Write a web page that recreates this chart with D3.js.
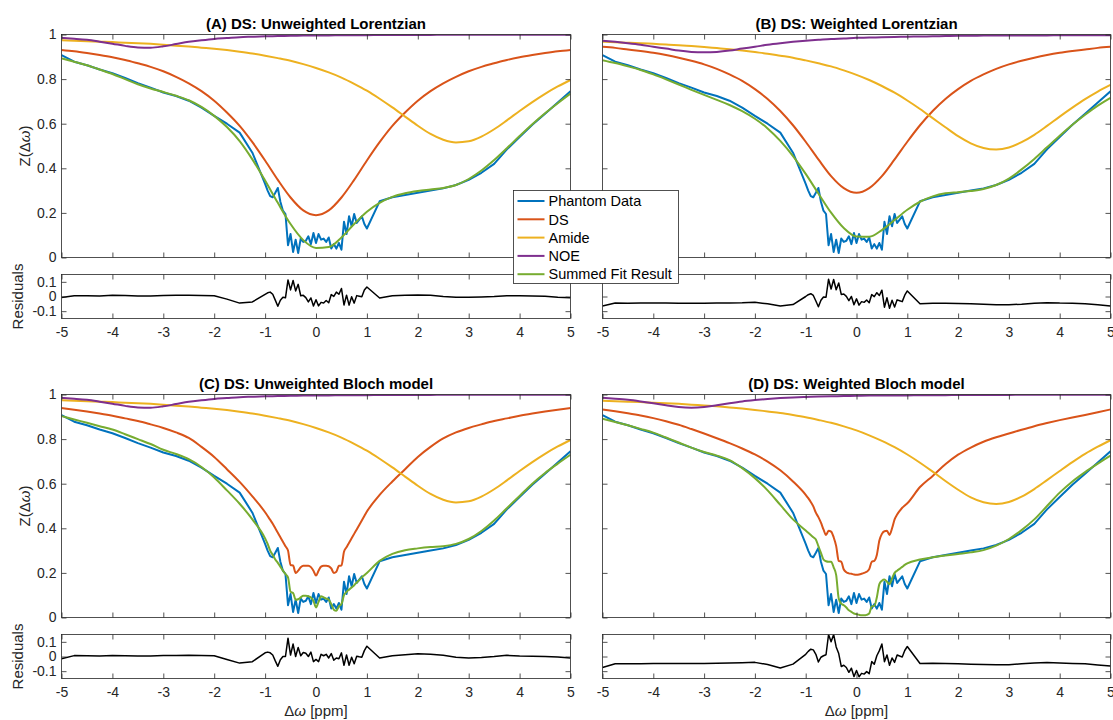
<!DOCTYPE html>
<html>
<head>
<meta charset="utf-8">
<script src="https://cdn.jsdelivr.net/npm/d3@7"></script>
<style>
  body { margin: 0; background: #fff; }
  svg text { font-family: 'Liberation Sans', Arial, Helvetica, sans-serif; }
</style>
</head>
<body>
<div id="canvas"></div>
<script>
'use strict';

// Measured saturation offsets (ppm). Dense sampling around water.
const offsets = [
  -5, -4.75, -4.5, -4.25, -4, -3.75, -3.5, -3.25, -3, -2.75, -2.5, -2.25, -2, -1.75, -1.5, -1.25,
  -1, -0.95, -0.9, -0.85, -0.8, -0.75, -0.7, -0.65, -0.6, -0.55, -0.5, -0.45, -0.4, -0.35, -0.3,
  -0.25, -0.2, -0.15, -0.1, -0.05, 0, 0.05, 0.1, 0.15, 0.2, 0.25, 0.3, 0.35, 0.4, 0.45, 0.5,
  0.55, 0.6, 0.65, 0.7, 0.75, 0.8, 0.85, 0.9, 0.95, 1,
  1.25, 1.5, 1.75, 2, 2.25, 2.5, 2.75, 3, 3.25, 3.5, 3.75, 4, 4.25, 4.5, 4.75, 5];

// Grid the smooth Lorentzian components are read on.
const modelPpm = [
  -5, -4.75, -4.5, -4.25, -4, -3.75, -3.5, -3.25, -3, -2.75, -2.5, -2.25, -2, -1.75, -1.5, -1.25,
  -1, -0.75, -0.5, -0.25, 0, 0.25, 0.5, 0.75, 1, 1.25, 1.5, 1.75, 2, 2.25, 2.5, 2.75, 3, 3.25,
  3.5, 3.75, 4, 4.25, 4.5, 4.75, 5];

const phantom = [
  0.908, 0.878, 0.862, 0.843, 0.826, 0.805, 0.782, 0.762, 0.74, 0.724, 0.703, 0.672, 0.635, 0.6, 0.56, 0.47,
  0.33, 0.3, 0.275, 0.27, 0.29, 0.312, 0.25, 0.21, 0.195, 0.055, 0.105, 0.025, 0.08, 0.02, 0.085,
  0.07, 0.075, 0.095, 0.06, 0.11, 0.065, 0.105, 0.08, 0.085, 0.07, 0.09, 0.04, 0.06, 0.04, 0.065, 0.035,
  0.16, 0.105, 0.185, 0.14, 0.195, 0.155, 0.17, 0.185, 0.15, 0.13,
  0.252, 0.27, 0.28, 0.29, 0.3, 0.31, 0.325, 0.348, 0.38, 0.42, 0.485, 0.54, 0.595, 0.645, 0.695, 0.745];

// (A) unweighted Lorentzian, on modelPpm
const dsA = [
  0.931, 0.925, 0.917, 0.908, 0.898, 0.886, 0.871, 0.855, 0.835, 0.81, 0.781, 0.746, 0.703, 0.65, 0.59, 0.517,
  0.435, 0.348, 0.269, 0.211, 0.19, 0.211, 0.269, 0.348, 0.435, 0.517, 0.59, 0.65, 0.703, 0.746, 0.781,
  0.81, 0.835, 0.855, 0.871, 0.886, 0.898, 0.908, 0.917, 0.925, 0.931];
const amideA = [
  0.974, 0.972, 0.970, 0.968, 0.966, 0.963, 0.961, 0.958, 0.954, 0.950, 0.946, 0.941, 0.936, 0.930, 0.923, 0.915,
  0.905, 0.894, 0.882, 0.867, 0.850, 0.830, 0.807, 0.779, 0.748, 0.712, 0.673, 0.632, 0.591, 0.554, 0.528,
  0.516, 0.521, 0.542, 0.575, 0.615, 0.657, 0.697, 0.734, 0.767, 0.796];
const noeA = [
  0.985, 0.981, 0.976, 0.968, 0.959, 0.949, 0.942, 0.941, 0.947, 0.957, 0.967, 0.974, 0.98, 0.984, 0.988, 0.99,
  0.992, 0.993, 0.994, 0.995, 0.996, 0.996, 0.997, 0.997, 0.997, 0.998, 0.998, 0.998, 0.998, 0.998, 0.999,
  0.999, 0.999, 0.999, 0.999, 0.999, 0.999, 0.999, 0.999, 0.999, 0.999];
const fitA = [
  0.893, 0.878, 0.862, 0.843, 0.823, 0.8, 0.777, 0.758, 0.742, 0.725, 0.705, 0.675, 0.635, 0.585, 0.522, 0.44,
  0.345, 0.245, 0.15, 0.078, 0.043, 0.047, 0.09, 0.15, 0.205, 0.245, 0.272, 0.288, 0.298, 0.305, 0.312,
  0.325, 0.352, 0.39, 0.437, 0.49, 0.545, 0.598, 0.647, 0.692, 0.735];
const residA = [
  -0.007, 0.005, 0.005, 0.004, 0.008, 0.006, 0.003, 0.003, 0.006, 0.008, 0.008, 0.007, 0.005, -0.018, -0.045, -0.037,
  0.015, 0.025, 0.03, 0.015, -0.025, -0.067, -0.025, -0.005, -0.009, 0.113, 0.045, 0.109, 0.038, 0.083, 0.005,
  0.008, -0.008, -0.037, -0.01, -0.065, -0.022, -0.064, -0.04, -0.044, -0.027, -0.043, 0.013, 0.001, 0.03, 0.015, 0.055,
  -0.058, 0.009, -0.059, -0.002, -0.045, 0.006, 0.002, -0.002, 0.044, 0.065,
  -0.01, 0.005, 0.008, 0.01, 0.008, 0, -0.005, -0.005, -0.003, 0, 0.005, 0.005, 0.003, 0.002, -0.005, -0.008];

// (B) weighted Lorentzian, on modelPpm
const dsB = [
  0.945, 0.94, 0.933, 0.926, 0.918, 0.908, 0.896, 0.882, 0.866, 0.846, 0.821, 0.792, 0.755, 0.711, 0.657, 0.593,
  0.519, 0.44, 0.365, 0.311, 0.29, 0.311, 0.365, 0.44, 0.519, 0.593, 0.657, 0.711, 0.755, 0.792, 0.821,
  0.846, 0.866, 0.882, 0.896, 0.908, 0.918, 0.926, 0.933, 0.94, 0.945];
const amideB = [
  0.968, 0.965, 0.963, 0.961, 0.958, 0.955, 0.952, 0.948, 0.944, 0.939, 0.934, 0.928, 0.921, 0.914, 0.905, 0.896,
  0.884, 0.871, 0.857, 0.839, 0.819, 0.796, 0.769, 0.739, 0.704, 0.666, 0.625, 0.584, 0.544, 0.512, 0.491,
  0.484, 0.493, 0.517, 0.55, 0.59, 0.632, 0.672, 0.71, 0.744, 0.774];
const noeB = [
  0.972, 0.967, 0.961, 0.954, 0.945, 0.937, 0.928, 0.922, 0.92, 0.922, 0.928, 0.937, 0.945, 0.954, 0.961, 0.967,
  0.972, 0.976, 0.98, 0.982, 0.985, 0.986, 0.988, 0.989, 0.99, 0.991, 0.992, 0.993, 0.994, 0.994, 0.995,
  0.995, 0.995, 0.996, 0.996, 0.996, 0.997, 0.997, 0.997, 0.997, 0.997];
const fitB = [
  0.885, 0.872, 0.857, 0.841, 0.821, 0.799, 0.776, 0.752, 0.729, 0.707, 0.684, 0.656, 0.622, 0.579, 0.523, 0.455,
  0.375, 0.287, 0.201, 0.132, 0.094, 0.093, 0.123, 0.168, 0.214, 0.25, 0.274, 0.288, 0.293, 0.298, 0.307,
  0.325, 0.354, 0.395, 0.442, 0.494, 0.546, 0.595, 0.64, 0.681, 0.716];
const residB = [
  -0.065, -0.045, -0.046, -0.045, -0.044, -0.045, -0.046, -0.046, -0.046, -0.045, -0.044, -0.043, -0.04, -0.05, -0.065, -0.055,
  0, 0.012, 0.019, 0.007, -0.031, -0.07, -0.026, -0.003, -0.005, 0.118, 0.051, 0.116, 0.046, 0.092, 0.014,
  0.017, 0.001, -0.028, 0, -0.056, -0.016, -0.059, -0.035, -0.04, -0.024, -0.042, 0.013, -0.001, 0.026, 0.007, 0.043,
  -0.073, -0.009, -0.08, -0.026, -0.072, -0.023, -0.029, -0.035, 0.009, 0.038,
  -0.05, -0.046, -0.046, -0.047, -0.05, -0.052, -0.056, -0.056, -0.052, -0.046, -0.042, -0.045, -0.046, -0.05, -0.057, -0.064];

// (C) unweighted Bloch model: DS and fit on offsets
const dsC = [
  0.939, 0.932, 0.924, 0.915, 0.905, 0.893, 0.881, 0.866, 0.85, 0.83, 0.805, 0.765, 0.72, 0.665, 0.608, 0.543,
  0.472, 0.455, 0.438, 0.42, 0.4, 0.38, 0.36, 0.34, 0.32, 0.3, 0.235, 0.233, 0.2, 0.21, 0.225,
  0.232, 0.232, 0.232, 0.226, 0.21, 0.188, 0.21, 0.228, 0.232, 0.232, 0.23, 0.22, 0.2, 0.205, 0.232, 0.233,
  0.295, 0.315, 0.335, 0.355, 0.375, 0.395, 0.415, 0.435, 0.455, 0.475,
  0.55, 0.61, 0.665, 0.72, 0.765, 0.803, 0.83, 0.85, 0.866, 0.881, 0.893, 0.905, 0.915, 0.924, 0.932, 0.939];
const fitC = [
  0.903, 0.888, 0.873, 0.858, 0.843, 0.822, 0.8, 0.778, 0.752, 0.733, 0.71, 0.675, 0.628, 0.57, 0.51, 0.44,
  0.355, 0.33, 0.3, 0.28, 0.26, 0.245, 0.228, 0.21, 0.195, 0.18, 0.115, 0.11, 0.08, 0.082, 0.09,
  0.097, 0.097, 0.095, 0.09, 0.075, 0.045, 0.07, 0.095, 0.09, 0.085, 0.08, 0.06, 0.035, 0.03, 0.05, 0.06,
  0.1, 0.115, 0.125, 0.135, 0.145, 0.157, 0.168, 0.18, 0.19, 0.2,
  0.254, 0.285, 0.302, 0.31, 0.316, 0.32, 0.33, 0.352, 0.388, 0.435, 0.49, 0.545, 0.6, 0.648, 0.69, 0.73];
const residC = [
  -0.015, 0.006, 0.005, 0.004, 0.007, 0.005, 0.003, 0.004, 0.006, 0.007, 0.008, 0.007, 0.005, -0.02, -0.045, -0.035,
  0.025, 0.03, 0.025, 0.01, -0.03, -0.067, -0.022, 0, 0, 0.125, 0.01, 0.085, 0, 0.062, 0.005,
  0.027, 0.022, 0, 0.03, -0.035, -0.02, -0.035, 0.015, 0.005, 0.015, -0.01, 0.02, -0.025, -0.01, -0.015, 0.025,
  -0.06, 0.01, -0.06, -0.005, -0.05, 0.002, -0.002, -0.005, 0.04, 0.07,
  -0.01, 0.005, 0.012, 0.018, 0.015, 0.008, -0.005, -0.01, -0.006, 0, 0.008, 0.004, 0.002, 0, -0.004, -0.01];

// (D) weighted Bloch model
const amideD = [
  0.972, 0.970, 0.968, 0.966, 0.963, 0.961, 0.958, 0.954, 0.951, 0.947, 0.942, 0.937, 0.931, 0.924, 0.917, 0.908,
  0.898, 0.886, 0.873, 0.857, 0.839, 0.817, 0.792, 0.764, 0.731, 0.694, 0.654, 0.612, 0.573, 0.539, 0.517,
  0.509, 0.518, 0.542, 0.576, 0.616, 0.657, 0.697, 0.734, 0.766, 0.795];
const noeD = [
  0.985, 0.981, 0.976, 0.969, 0.961, 0.952, 0.944, 0.941, 0.944, 0.952, 0.961, 0.969, 0.975, 0.98, 0.984, 0.987,
  0.989, 0.991, 0.992, 0.993, 0.994, 0.995, 0.995, 0.996, 0.996, 0.997, 0.997, 0.997, 0.998, 0.998, 0.998,
  0.998, 0.998, 0.999, 0.999, 0.999, 0.999, 0.999, 0.999, 0.999, 0.999];
const dsD = [
  0.933, 0.925, 0.916, 0.906, 0.894, 0.88, 0.864, 0.845, 0.825, 0.804, 0.782, 0.758, 0.731, 0.699, 0.66, 0.61,
  0.55, 0.535, 0.518, 0.498, 0.47, 0.45, 0.425, 0.395, 0.37, 0.389, 0.385, 0.36, 0.32, 0.254, 0.25,
  0.215, 0.203, 0.198, 0.196, 0.193, 0.192, 0.193, 0.196, 0.2, 0.205, 0.217, 0.25, 0.254, 0.28, 0.345, 0.375,
  0.387, 0.389, 0.37, 0.4, 0.44, 0.462, 0.478, 0.492, 0.502, 0.512,
  0.585, 0.635, 0.687, 0.73, 0.762, 0.788, 0.808, 0.825, 0.842, 0.858, 0.872, 0.885, 0.897, 0.908, 0.92, 0.933];
const fitD = [
  0.891, 0.877, 0.862, 0.846, 0.829, 0.807, 0.785, 0.762, 0.742, 0.726, 0.706, 0.67, 0.625, 0.57, 0.505, 0.44,
  0.39, 0.38, 0.37, 0.36, 0.35, 0.32, 0.29, 0.26, 0.252, 0.25, 0.25, 0.225, 0.19, 0.085, 0.062,
  0.055, 0.045, 0.032, 0.025, 0.018, 0.015, 0.012, 0.01, 0.01, 0.012, 0.018, 0.05, 0.052, 0.09, 0.15, 0.165,
  0.17, 0.16, 0.15, 0.175, 0.2, 0.21, 0.218, 0.227, 0.236, 0.243,
  0.26, 0.27, 0.278, 0.285, 0.292, 0.302, 0.322, 0.352, 0.392, 0.44, 0.5, 0.56, 0.61, 0.652, 0.69, 0.726];
const residD = [
  -0.075, -0.05, -0.05, -0.05, -0.048, -0.047, -0.048, -0.048, -0.047, -0.046, -0.045, -0.043, -0.04, -0.055, -0.078, -0.052,
  0.015, 0.035, 0.05, 0.045, 0.015, -0.037, -0.005, 0.005, 0.012, 0.15, 0.1, 0.15, 0.065, 0.02, -0.068,
  -0.06, -0.075, -0.108, -0.08, -0.137, -0.095, -0.138, -0.115, -0.12, -0.103, -0.117, -0.035, -0.053, 0.005, 0.04, 0.085,
  -0.035, 0.01, -0.06, -0.01, -0.04, 0.01, 0.003, -0.003, 0.041, 0.068,
  -0.048, -0.046, -0.047, -0.05, -0.052, -0.054, -0.056, -0.056, -0.05, -0.045, -0.041, -0.044, -0.047, -0.05, -0.058, -0.065];

const xTicks = [-5, -4, -3, -2, -1, 0, 1, 2, 3, 4, 5];
const zTicks = [0, 0.2, 0.4, 0.6, 0.8, 1];
const residTicks = [-0.1, 0, 0.1];
const legendKeys = ['Phantom Data', 'DS', 'Amide', 'NOE', 'Summed Fit Result'];

// MATLAB default line colours.
const COLORS = ['#0072BD', '#D95319', '#EDB120', '#7E2F8E', '#77AC30'];
const AXIS_COLOR = '#262626';

const WIDTH = 1113;
const HEIGHT = 720;
const COLUMNS = [{left: 61.5, right: 570.5}, {left: 602.5, right: 1110.5}];
const ROWS = [{top: 34.5}, {top: 394.5}];
const MAIN_H = 223;
const GAP = 17;
const RES_H = 44;
const TICK = 5;

const panels = [
  {id: 'a', title: '(A) DS: Unweighted Lorentzian', col: 0, row: 0,
   curves: [[modelPpm, dsA], [modelPpm, amideA], [modelPpm, noeA], [modelPpm, fitA]],
   resid: residA},
  {id: 'b', title: '(B) DS: Weighted Lorentzian', col: 1, row: 0,
   curves: [[modelPpm, dsB], [modelPpm, amideB], [modelPpm, noeB], [modelPpm, fitB]],
   resid: residB},
  {id: 'c', title: '(C) DS: Unweighted Bloch model', col: 0, row: 1,
   curves: [[offsets, dsC], [modelPpm, amideA], [modelPpm, noeA], [offsets, fitC]],
   resid: residC},
  {id: 'd', title: '(D) DS: Weighted Bloch model', col: 1, row: 1,
   curves: [[offsets, dsD], [modelPpm, amideD], [modelPpm, noeD], [offsets, fitD]],
   resid: residD},
];

const svg = d3.select('#canvas').append('svg')
    .attr('width', WIDTH)
    .attr('height', HEIGHT)
    .style('display', 'block');
const defs = svg.append('defs');

/** Draws a boxed MATLAB-style axes with inward ticks on all four sides. */
function drawAxes(g, x, y, yTicks, showXLabels, showYLabels) {
  const [x0, x1] = x.range();
  const [yBottom, yTop] = y.range();
  const fmt = d => String(d);

  g.append('g')
      .attr('transform', `translate(0,${yBottom})`)
      .call(d3.axisBottom(x).tickValues(xTicks).tickSizeInner(-TICK).tickSizeOuter(0)
          .tickPadding(9).tickFormat(showXLabels ? fmt : ''));
  g.append('g')
      .attr('transform', `translate(0,${yTop})`)
      .call(d3.axisTop(x).tickValues(xTicks).tickSizeInner(-TICK).tickSizeOuter(0).tickFormat(''));
  g.append('g')
      .attr('transform', `translate(${x0},0)`)
      .call(d3.axisLeft(y).tickValues(yTicks).tickSizeInner(-TICK).tickSizeOuter(0)
          .tickPadding(5).tickFormat(showYLabels ? fmt : ''));
  g.append('g')
      .attr('transform', `translate(${x1},0)`)
      .call(d3.axisRight(y).tickValues(yTicks).tickSizeInner(-TICK).tickSizeOuter(0).tickFormat(''));

  g.selectAll('.domain').remove();
  g.selectAll('.tick line').attr('stroke', AXIS_COLOR).attr('stroke-width', 0.8);
  g.selectAll('.tick text')
      .attr('fill', AXIS_COLOR)
      .style('font-size', '14px');

  g.append('rect')
      .attr('x', x0)
      .attr('y', yTop)
      .attr('width', x1 - x0)
      .attr('height', yBottom - yTop)
      .attr('fill', 'none')
      .attr('stroke', AXIS_COLOR)
      .attr('stroke-width', 0.8);
}

function addClip(id, x, y) {
  const [x0, x1] = x.range();
  const [yBottom, yTop] = y.range();
  defs.append('clipPath').attr('id', id)
      .append('rect')
      .attr('x', x0).attr('y', yTop)
      .attr('width', x1 - x0).attr('height', yBottom - yTop);
  return `url(#${id})`;
}

function drawPanel(p) {
  const col = COLUMNS[p.col];
  const top = ROWS[p.row].top;
  const residTop = top + MAIN_H + GAP;
  const g = svg.append('g').attr('class', `panel-${p.id}`);

  const x = d3.scaleLinear().domain([-5, 5]).range([col.left, col.right]);
  const yMain = d3.scaleLinear().domain([0, 1]).range([top + MAIN_H, top]);
  const yRes = d3.scaleLinear().domain([-0.15, 0.15]).range([residTop + RES_H, residTop]);

  const mainClip = addClip(`clip-main-${p.id}`, x, yMain);
  const resClip = addClip(`clip-res-${p.id}`, x, yRes);

  const plotLine = (xs, ys, yScale, color, smooth, width, clip) => {
    const gen = d3.line()
        .x((d, i) => x(xs[i]))
        .y(d => yScale(d))
        .curve(smooth ? d3.curveMonotoneX : d3.curveLinear);
    g.append('path')
        .datum(ys)
        .attr('d', gen)
        .attr('fill', 'none')
        .attr('stroke', color)
        .attr('stroke-width', width)
        .attr('stroke-linejoin', 'round')
        .attr('clip-path', clip);
  };

  // Measured data and residuals are plain polylines, model curves are smoothed.
  plotLine(offsets, phantom, yMain, COLORS[0], false, 2, mainClip);
  p.curves.forEach(([xs, ys], i) => {
    plotLine(xs, ys, yMain, COLORS[i + 1], true, 2, mainClip);
  });
  plotLine(offsets, p.resid, yRes, '#000', false, 1.5, resClip);

  const showY = p.col === 0;
  drawAxes(g.append('g'), x, yMain, zTicks, false, showY);
  drawAxes(g.append('g'), x, yRes, residTicks, true, showY);

  const cx = (col.left + col.right) / 2;
  g.append('text')
      .attr('x', cx)
      .attr('y', top - 5.5)
      .attr('text-anchor', 'middle')
      .attr('font-weight', 'bold')
      .attr('fill', '#000')
      .style('font-size', '15px')
      .text(p.title);

  if (showY) {
    const zLabel = g.append('text')
        .attr('transform', `translate(30,${top + MAIN_H / 2}) rotate(-90)`)
        .attr('text-anchor', 'middle')
        .attr('fill', AXIS_COLOR)
        .style('font-size', '15px');
    zLabel.append('tspan').text('Z(Δ');
    zLabel.append('tspan').attr('font-style', 'italic').text('ω');
    zLabel.append('tspan').text(')');

    g.append('text')
        .attr('transform', `translate(23,${residTop + RES_H / 2}) rotate(-90)`)
        .attr('text-anchor', 'middle')
        .attr('fill', AXIS_COLOR)
        .style('font-size', '15px')
        .text('Residuals');
  }

  if (p.row === 1) {
    const xLabel = g.append('text')
        .attr('x', cx)
        .attr('y', 716)
        .attr('text-anchor', 'middle')
        .attr('fill', AXIS_COLOR)
        .style('font-size', '15px');
    xLabel.append('tspan').text('Δ');
    xLabel.append('tspan').attr('font-style', 'italic').text('ω');
    xLabel.append('tspan').text(' [ppm]');
  }
}

panels.forEach(drawPanel);

// Shared legend, sitting over the gap between panels A and B.
const legend = svg.append('g').attr('class', 'legend');
legend.append('rect')
    .attr('x', 513.5)
    .attr('y', 190.5)
    .attr('width', 165)
    .attr('height', 93)
    .attr('fill', '#fff')
    .attr('stroke', AXIS_COLOR)
    .attr('stroke-width', 0.8);
legendKeys.forEach((key, i) => {
  const cy = 201 + i * 18.3;
  legend.append('line')
      .attr('x1', 517.5).attr('x2', 544.5)
      .attr('y1', cy).attr('y2', cy)
      .attr('stroke', COLORS[i])
      .attr('stroke-width', 2);
  legend.append('text')
      .attr('x', 548.5)
      .attr('y', cy)
      .attr('dy', '0.36em')
      .attr('fill', '#000')
      .style('font-size', '14.5px')
      .text(key);
});
</script>
</body>
</html>
